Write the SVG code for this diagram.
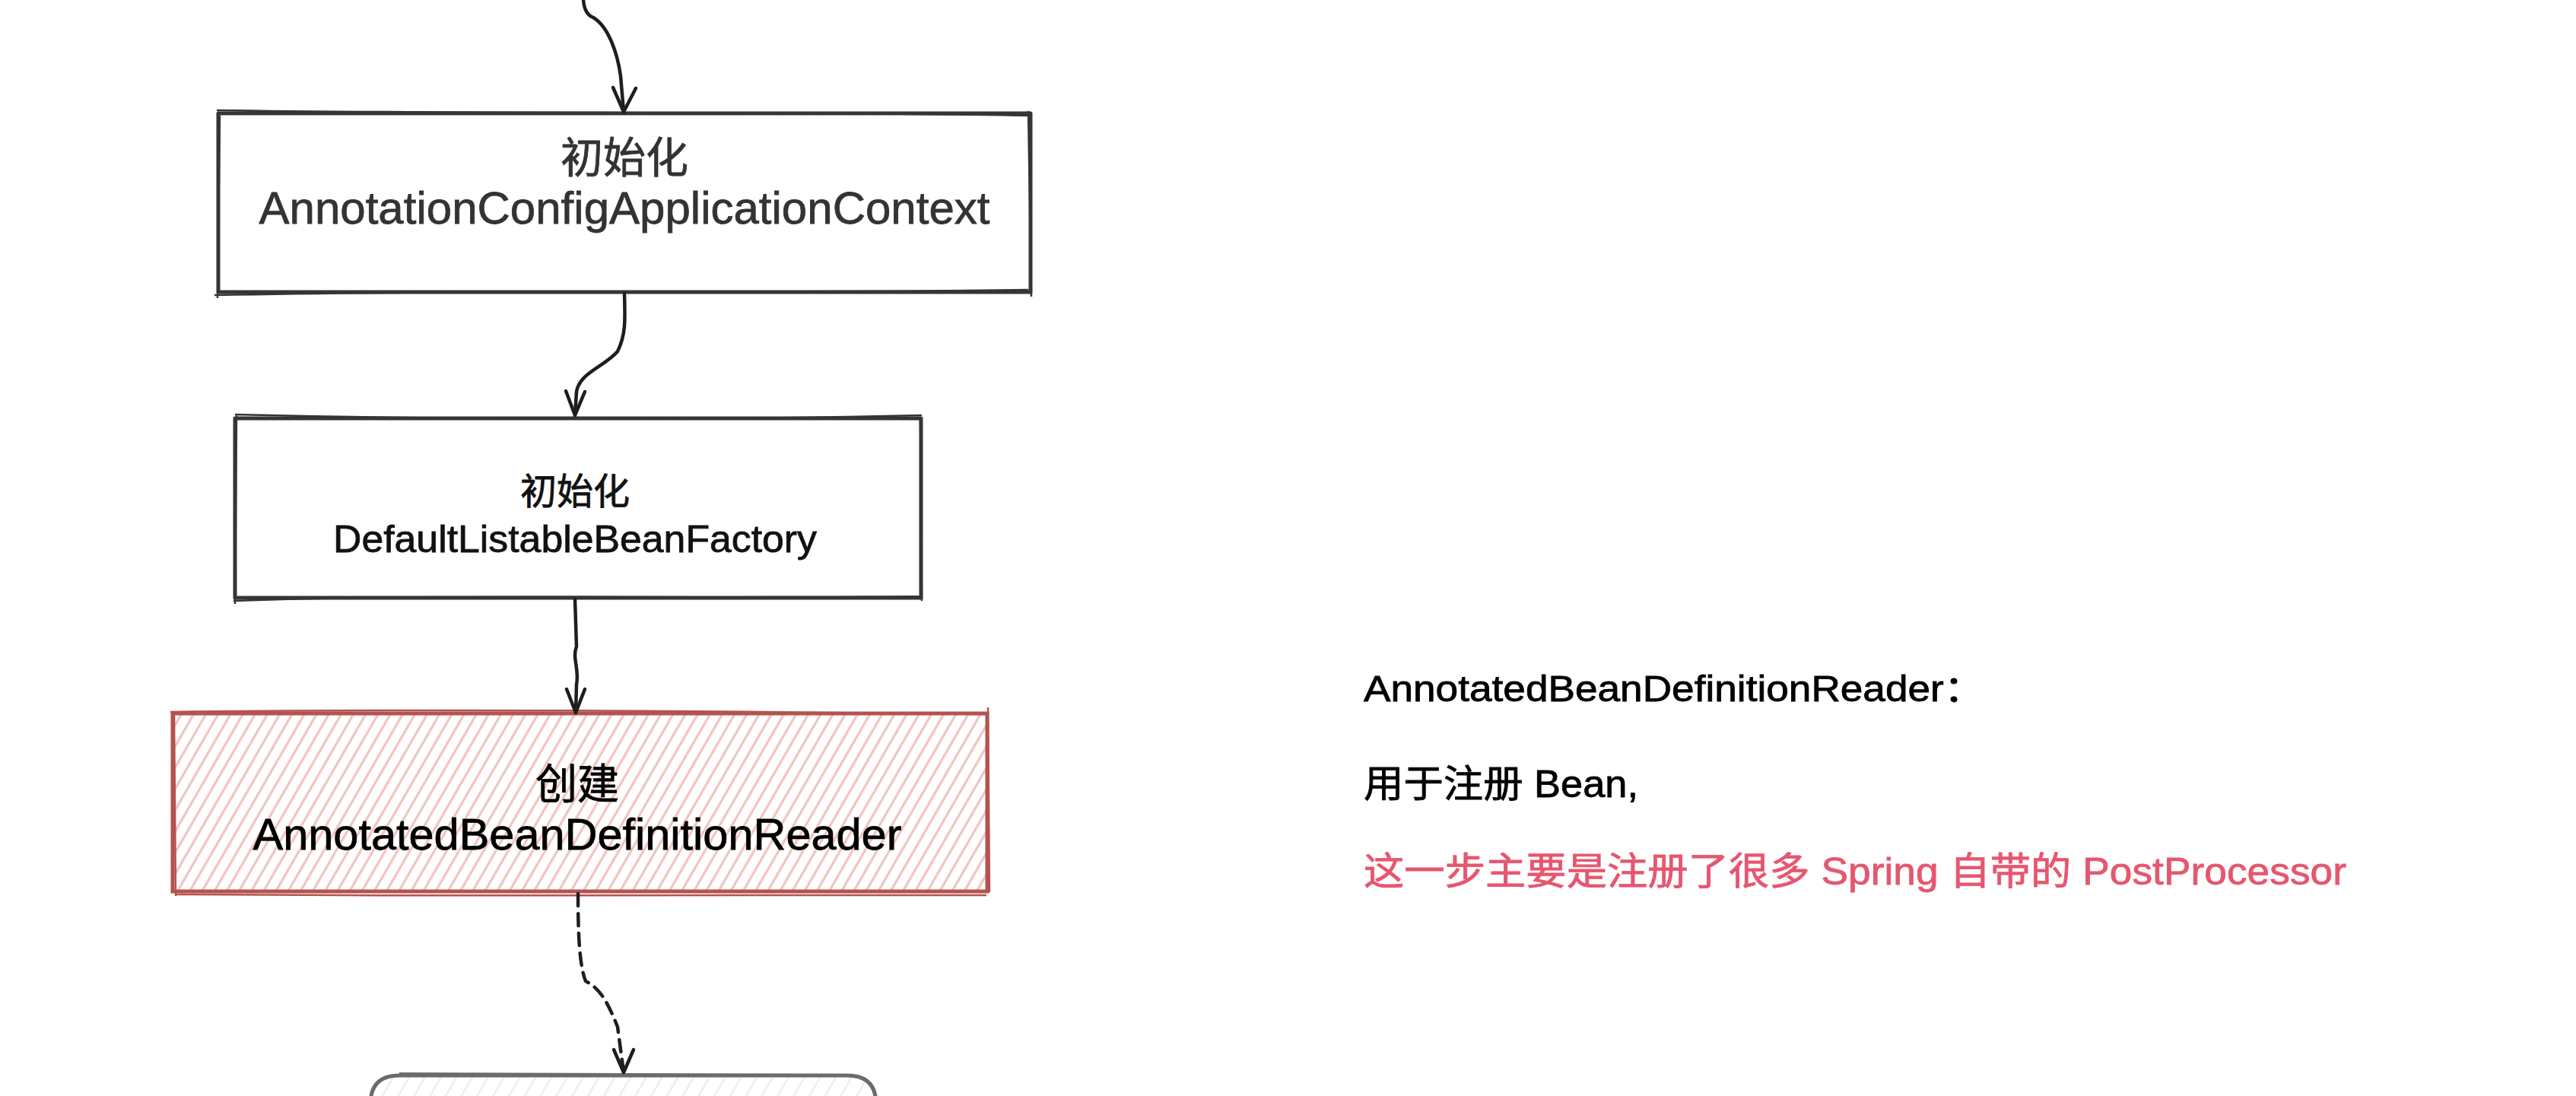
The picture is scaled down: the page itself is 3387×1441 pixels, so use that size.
<svg xmlns="http://www.w3.org/2000/svg" width="3387" height="1441" viewBox="0 0 3387 1441">
<style>
  .lbl { font-family: "Liberation Sans", "Noto Sans CJK SC", sans-serif; text-anchor: middle; stroke-width: 0.8; }
  .note { font-family: "Liberation Sans", "Noto Sans CJK SC", sans-serif; stroke-width: 0.8; }
  .edge { fill: none; stroke: #1e1e1e; stroke-width: 4.5; stroke-linecap: round; stroke-linejoin: round; }
  .head { fill: none; stroke: #1e1e1e; stroke-width: 4.5; stroke-linecap: round; stroke-linejoin: round; }
  .dash { stroke-dasharray: 16 10; }
  .boxDark { fill: #ffffff; stroke: #353535; stroke-width: 5; stroke-linejoin: round; }
  .sketchDark { fill: none; stroke: #353535; stroke-width: 2.5; }
  .boxRed { fill: url(#hatchRed); stroke: #b3534f; stroke-width: 5; }
  .sketchRed { fill: none; stroke: #b3534f; stroke-width: 2.5; }
  .boxGray { fill: url(#hatchGray); stroke: #6b6b6b; stroke-width: 5; }
</style>
<defs>
  <pattern id="hatchRed" patternUnits="userSpaceOnUse" width="14" height="14" patternTransform="rotate(30)">
    <rect width="14" height="14" fill="#ffffff"/>
    <line x1="4" y1="0" x2="4" y2="14" stroke="#f0bfbd" stroke-width="3"/>
  </pattern>
  <pattern id="hatchGray" patternUnits="userSpaceOnUse" width="18" height="18" patternTransform="rotate(30)">
    <rect width="18" height="18" fill="#ffffff"/>
    <line x1="4" y1="0" x2="4" y2="18" stroke="#ececec" stroke-width="2.4"/>
  </pattern>
</defs>
<rect width="3387" height="1441" fill="#ffffff"/>

<g id="node-context">
  <rect class="boxDark" x="287" y="149" width="1068" height="235"/>
  <path class="sketchDark" d="M 285 145 C 600 150, 1000 146, 1357 152 M 1352 146 L 1356 390 M 282 388 C 700 380, 1000 386, 1352 381 M 289 152 L 286 392"/>
  <text class="lbl" x="821" y="227" font-size="56" fill="#333333" stroke="#333333">初始化</text>
  <text class="lbl" x="821" y="294" font-size="60" fill="#333333" stroke="#333333" textLength="961" lengthAdjust="spacingAndGlyphs">AnnotationConfigApplicationContext</text>
</g>

<g id="node-factory">
  <rect class="boxDark" x="309" y="550" width="902" height="236"/>
  <path class="sketchDark" d="M 309 545 C 600 552, 900 553, 1212 546 M 1210 548 L 1212 790 M 307 790 C 600 780, 900 788, 1212 784 M 311 546 L 309 794"/>
  <text class="lbl" x="756" y="663" font-size="48" fill="#111111" stroke="#111111">初始化</text>
  <text class="lbl" x="756" y="726" font-size="50" fill="#111111" stroke="#111111" textLength="636" lengthAdjust="spacingAndGlyphs">DefaultListableBeanFactory</text>
</g>

<g id="node-reader">
  <rect class="boxRed" x="227" y="938" width="1071" height="234"/>
  <path class="sketchRed" d="M 224 936 C 600 931, 1000 936, 1297 939 M 1299 930 L 1301 1173 M 232 1176 C 600 1178, 1000 1180, 1297 1177 M 229 940 L 231 1178"/>
  <text class="lbl" x="759" y="1050" font-size="55" fill="#000000" stroke="#000000">创建</text>
  <text class="lbl" x="759" y="1117" font-size="58" fill="#000000" stroke="#000000" textLength="853" lengthAdjust="spacingAndGlyphs">AnnotatedBeanDefinitionReader</text>
</g>

<g id="node-next">
  <path class="boxGray" d="M 487 1460 L 487 1452 Q 487 1414 525 1414 L 1114 1414 Q 1152 1414 1152 1452 L 1152 1460"/>
  <path fill="none" stroke="#6b6b6b" stroke-width="2" d="M 525 1411 L 1115 1413"/>
</g>

<g id="connectors">
  <path class="edge" d="M 767 0 C 768 12, 772 20, 780 23 C 800 35, 812 70, 816 100 L 820 147"/>
  <path class="head" d="M 806 115 L 820 147 L 836 116"/>
  <path class="edge" d="M 821 386 C 822 420, 823 440, 812 462 C 795 482, 762 490, 758 515 L 756 546"/>
  <path class="head" d="M 744 514 L 756 546 L 769 515"/>
  <path class="edge" d="M 756 788 L 758 850 C 752 865, 762 880, 758 900 L 757 937"/>
  <path class="head" d="M 745 906 L 757 937 L 769 906"/>
  <path class="edge dash" d="M 760 1175 C 760 1230, 762 1270, 770 1290 C 790 1300, 800 1320, 812 1350 L 820 1410"/>
  <path class="head" d="M 807 1380 L 820 1410 L 833 1380"/>
</g>

<g id="notes">
  <text class="note" x="1793" y="922" font-size="48" fill="#000000" stroke="#000000" textLength="816" lengthAdjust="spacingAndGlyphs">AnnotatedBeanDefinitionReader：</text>
  <text class="note" x="1793" y="1048" font-size="50" fill="#000000" stroke="#000000" textLength="361" lengthAdjust="spacingAndGlyphs">用于注册 Bean,</text>
  <text class="note" x="1793" y="1163" font-size="50" fill="#e6566f" stroke="#e6566f" textLength="1292" lengthAdjust="spacingAndGlyphs">这一步主要是注册了很多 Spring 自带的 PostProcessor</text>
</g>
</svg>
